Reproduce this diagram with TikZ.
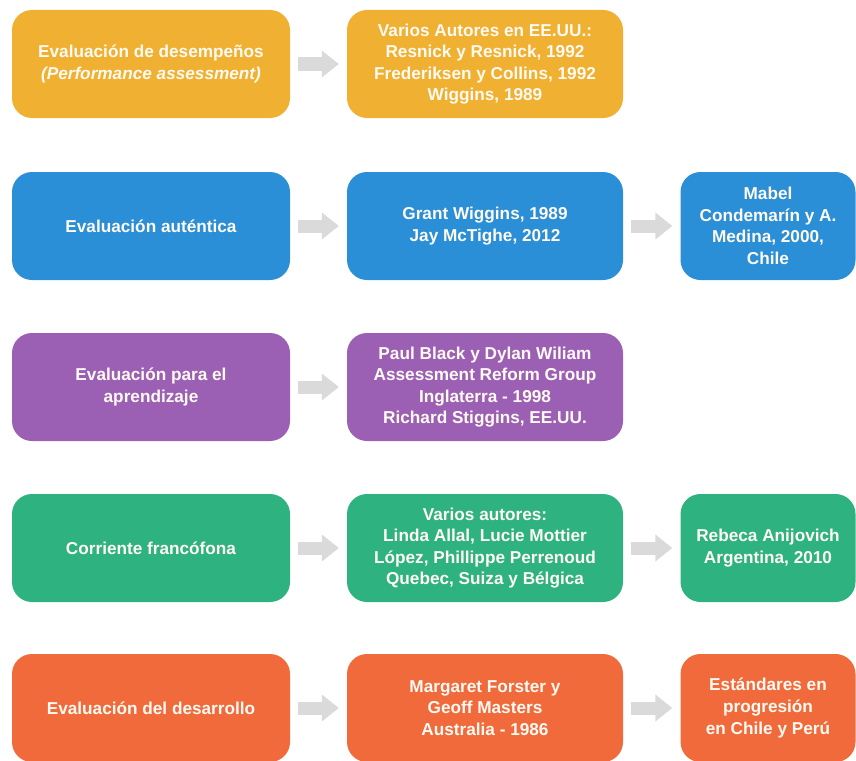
\documentclass[tikz,border=0pt]{standalone}
\usepackage{fontspec}
\setmainfont{Liberation Sans}
\usetikzlibrary{arrows.meta}
\definecolor{cYel}{RGB}{240,176,50}
\definecolor{cBlu}{RGB}{42,143,214}
\definecolor{cPur}{RGB}{155,96,180}
\definecolor{cGrn}{RGB}{46,178,128}
\definecolor{cOrg}{RGB}{240,106,60}
\definecolor{cArr}{RGB}{218,218,218}
\definecolor{cTxt}{RGB}{255,250,242}
\tikzset{
  box/.style={rounded corners=20pt, minimum height=108pt, inner sep=0pt,
    text=cTxt, align=center, font=\fontsize{17.2}{21.6}\selectfont\bfseries},
  wide/.style={box, minimum width=278pt},
  narrow/.style={box, minimum width=175pt},
  garrow/.style={draw=cArr, line width=13pt, -{Triangle[width=26pt,length=17pt]}, shorten <=8pt, shorten >=8pt}
}
\begin{document}
\begin{tikzpicture}[x=1pt,y=-1pt]
\useasboundingbox (0,0) rectangle (856,760);
% row 1
\node[wide, fill=cYel] (a1) at (151,64) {Evaluación de desempeños\\\textit{(Performance assessment)}};
\node[wide, fill=cYel, minimum width=276pt] (a2) at (485,64) {Varios Autores en EE.UU.:\\Resnick y Resnick, 1992\\Frederiksen y Collins, 1992\\Wiggins, 1989};
% row 2
\node[wide, fill=cBlu] (b1) at (151,226) {Evaluación auténtica};
\node[wide, fill=cBlu, minimum width=276pt] (b2) at (485,226) {Grant Wiggins, 1989\\Jay McTighe, 2012};
\node[narrow, fill=cBlu] (b3) at (768,226) {Mabel\\Condemarín y A.\\Medina, 2000,\\Chile};
% row 3
\node[wide, fill=cPur] (c1) at (151,387) {Evaluación para el\\aprendizaje};
\node[wide, fill=cPur, minimum width=276pt] (c2) at (485,387) {Paul Black y Dylan Wiliam\\Assessment Reform Group\\Inglaterra - 1998\\Richard Stiggins, EE.UU.};
% row 4
\node[wide, fill=cGrn] (d1) at (151,548) {Corriente francófona};
\node[wide, fill=cGrn, minimum width=276pt] (d2) at (485,548) {Varios autores:\\Linda Allal, Lucie Mottier\\López, Phillippe Perrenoud\\Quebec, Suiza y Bélgica};
\node[narrow, fill=cGrn] (d3) at (768,548) {Rebeca Anijovich\\Argentina, 2010};
% row 5
\node[wide, fill=cOrg] (e1) at (151,708) {Evaluación del desarrollo};
\node[wide, fill=cOrg, minimum width=276pt] (e2) at (485,708) {Margaret Forster y\\Geoff Masters\\Australia - 1986};
\node[narrow, fill=cOrg] (e3) at (768,708) {Estándares en\\progresión\\en Chile y Perú};
% arrows
\draw[garrow] (a1) -- (a2);
\draw[garrow] (b1) -- (b2);
\draw[garrow] (b2) -- (b3);
\draw[garrow] (c1) -- (c2);
\draw[garrow] (d1) -- (d2);
\draw[garrow] (d2) -- (d3);
\draw[garrow] (e1) -- (e2);
\draw[garrow] (e2) -- (e3);
\end{tikzpicture}
\end{document}
